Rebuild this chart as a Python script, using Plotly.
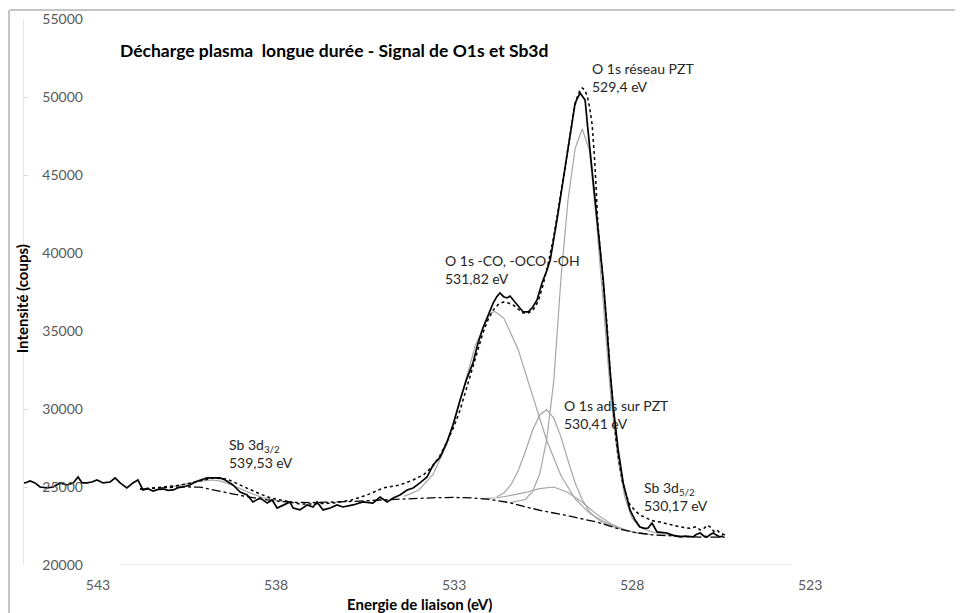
import plotly.graph_objects as go

# spectre mesuré (trait plein noir)
energy_raw = [545.19, 545.05, 544.91, 544.77, 544.63, 544.43, 544.26, 544.07, 543.87, 543.70,
              543.56, 543.45, 543.31, 543.17, 543.03, 542.86, 542.66, 542.52, 542.38, 542.19,
              542.02, 541.88, 541.74, 541.60, 541.46, 541.31, 541.17, 541.03, 540.89, 540.75,
              540.61, 540.42, 540.28, 540.13, 539.94, 539.77, 539.57, 539.43, 539.21, 539.01,
              538.81, 538.65, 538.45, 538.25, 538.11, 537.97, 537.80, 537.61, 537.52, 537.33,
              537.13, 536.96, 536.85, 536.68, 536.48, 536.29, 536.12, 535.84, 535.56, 535.28,
              535.08, 534.88, 534.71, 534.52, 534.32, 534.15, 533.96, 533.76, 533.59, 533.39,
              533.20, 533.03, 532.83, 532.65, 532.47, 532.33, 532.19, 532.05, 531.90, 531.80,
              531.71, 531.61, 531.51, 531.43, 531.33, 531.23, 531.06, 530.92, 530.80, 530.67,
              530.53, 530.39, 530.30, 530.11, 529.94, 529.74, 529.60, 529.46, 529.32, 529.24,
              529.10, 528.96, 528.81, 528.62, 528.53, 528.39, 528.25, 528.06, 527.92, 527.78,
              527.65, 527.55, 527.44, 527.30, 527.16, 527.02, 526.85, 526.65, 526.50, 526.29,
              526.20, 526.09, 525.98, 525.89, 525.80, 525.72, 525.62, 525.53, 525.44]
counts_raw = [25320, 25260, 25390, 25260, 25000, 24940, 25000, 25260, 25130, 25260,
              25640, 25260, 25260, 25320, 25450, 25260, 25320, 25580, 25260, 24940,
              25260, 25450, 24810, 24900, 24740, 24850, 24870, 24780, 24810, 24950,
              25000, 25130, 25320, 25450, 25580, 25580, 25580, 25450, 25130, 24680,
              24490, 24040, 24300, 23970, 24170, 23650, 23850, 24040, 23650, 23530,
              23850, 23720, 24040, 23530, 23650, 23850, 23720, 23850, 24040, 23970,
              24360, 24040, 24300, 24490, 24810, 24940, 25260, 25640, 26410, 26920,
              27890, 28970, 30580, 31900, 32950, 34200, 35190, 36000, 36800, 37200,
              37440, 37200, 37120, 37240, 36950, 36670, 36220, 36220, 36500, 36990,
              38080, 38910, 39550, 42120, 44680, 47690, 49620, 50260, 49810, 47890,
              44680, 41470, 38270, 32500, 30130, 27370, 25260, 23530, 22900, 22440,
              22350, 22370, 22690, 22120, 22100, 22050, 21900, 21800, 21850, 21800,
              21950, 22050, 21850, 21800, 21950, 22050, 21900, 21800, 21860]

# enveloppe de l'ajustement (pointillé)
energy_fit = [541.82, 541.40, 540.89, 540.50, 540.13, 539.77, 539.38, 539.01, 538.70, 538.45,
              538.15, 537.89, 537.60, 537.33, 536.90, 536.40, 535.90, 535.44, 534.99, 534.52,
              534.15, 533.85, 533.59, 533.40, 533.20, 533.00, 532.83, 532.65, 532.47, 532.30,
              532.19, 532.05, 531.90, 531.76, 531.62, 531.48, 531.34, 531.20, 531.06, 530.92,
              530.78, 530.64, 530.50, 530.36, 530.22, 530.08, 529.94, 529.82, 529.71, 529.62,
              529.54, 529.47, 529.40, 529.33, 529.26, 529.19, 529.12, 529.04, 528.96, 528.88,
              528.79, 528.70, 528.62, 528.53, 528.45, 528.37, 528.28, 528.17, 528.06, 527.90,
              527.78, 527.63, 527.45, 527.21, 526.95, 526.65, 526.38, 526.20, 526.09, 525.98,
              525.89, 525.81, 525.70, 525.62, 525.53, 525.39]
counts_fit = [24870, 24950, 25060, 25200, 25390, 25580, 25510, 25130, 24800, 24550,
              24300, 24170, 24000, 23910, 23920, 23970, 24150, 24490, 24940, 25130,
              25450, 25800, 26350, 27000, 27890, 28900, 29940, 31300, 32630, 33900,
              34870, 35700, 36350, 36700, 36860, 36800, 36670, 36400, 36150, 36150,
              36350, 36900, 37950, 39300, 40830, 42700, 44680, 46400, 48010, 49300,
              50000, 50400, 50580, 50450, 50060, 49300, 48200, 45500, 41800, 39800,
              37950, 35300, 32500, 30000, 28010, 26700, 25450, 24500, 23850, 23450,
              23200, 23050, 22850, 22750, 22600, 22440, 22350, 22450, 22250, 22350,
              22550, 22440, 22150, 22250, 22050, 21920]

# fond (tiret-point)
energy_bg = [541.82, 541.20, 540.60, 540.13, 539.80, 539.50, 539.20, 538.90, 538.60, 538.25,
             537.90, 537.50, 537.00, 536.50, 536.00, 535.50, 535.00, 534.50, 534.00, 533.50,
             533.00, 532.50, 532.00, 531.50, 531.00, 530.50, 530.00, 529.50, 529.00, 528.50,
             528.00, 527.50, 527.00, 526.50, 526.00, 525.40]
counts_bg = [24870, 24950, 25010, 24990, 24850, 24700, 24550, 24420, 24300, 24170,
             24080, 24020, 24000, 24020, 24060, 24120, 24180, 24240, 24290, 24320,
             24330, 24300, 24200, 24020, 23730, 23460, 23250, 23020, 22760, 22400,
             22110, 21950, 21860, 21810, 21790, 21780]

# composantes (gris)
energy_sb32 = [541.00, 540.60, 540.20, 539.80, 539.55, 539.20, 538.80, 538.40, 538.00, 537.60]
counts_sb32 = [24980, 25150, 25350, 25450, 25380, 25100, 24690, 24335, 24125, 24040]

energy_co = [534.40, 534.00, 533.60, 533.20, 532.80, 532.40, 532.00, 531.85, 531.60, 531.20,
             530.80, 530.40, 530.00, 529.60, 529.20, 528.80, 528.40, 528.00, 527.50]
counts_co = [24400, 24790, 25770, 27760, 30800, 34090, 36120, 36250, 35810, 33810,
             30890, 28000, 25740, 24240, 23330, 22790, 22380, 22130, 21960]

energy_ads = [531.80, 531.60, 531.40, 531.20, 531.00, 530.80, 530.60, 530.40, 530.20, 530.00,
              529.80, 529.60, 529.40, 529.20, 529.00, 528.80, 528.50]
counts_ads = [24380, 24620, 25150, 26040, 27260, 28600, 29600, 29960, 29420, 28230,
              26700, 25260, 24200, 23420, 22990, 22690, 22420]

energy_sb52 = [532.20, 531.80, 531.40, 531.00, 530.60, 530.20, 529.80, 529.40, 529.00, 528.60,
               528.20, 527.80]
counts_sb52 = [24250, 24310, 24460, 24650, 24900, 25000, 24650, 24020, 23260, 22640,
               22260, 22010]

energy_pzt = [531.40, 531.00, 530.80, 530.60, 530.40, 530.20, 530.00, 529.80, 529.60, 529.40,
              529.20, 529.00, 528.80, 528.60, 528.40, 528.20, 528.00, 527.80, 527.60, 527.40,
              527.00, 526.50]
counts_pzt = [24020, 24200, 24700, 25800, 28000, 31800, 38300, 43400, 46700, 47950,
              46600, 42000, 36500, 30800, 26800, 24300, 23000, 22450, 22250, 22100,
              21950, 21830]

x_ticks = [543, 538, 533, 528, 523]
y_ticks = [20000, 25000, 30000, 35000, 40000, 45000, 50000, 55000]

title_text = "<b>Décharge plasma  longue durée - Signal de O1s et Sb3d</b>"
labels = [
    ("O 1s réseau PZT<br>529,4 eV", 529.18, 51250),
    ("O 1s -CO, -OCO, -OH<br>531,82 eV", 533.31, 38974),
    ("O 1s ads sur PZT<br>530,41 eV", 529.97, 29679),
    ("Sb 3d<sub>5/2</sub><br>530,17 eV", 527.72, 24423),
    ("Sb 3d<sub>3/2</sub><br>539,53 eV", 539.38, 27147),
]

gray = "#a6a6a6"
fig = go.Figure()
for ex, cy in [(energy_sb32, counts_sb32), (energy_co, counts_co), (energy_ads, counts_ads),
               (energy_sb52, counts_sb52), (energy_pzt, counts_pzt)]:
    fig.add_trace(go.Scatter(x=ex, y=cy, mode="lines", line=dict(color=gray, width=1.2)))
fig.add_trace(go.Scatter(x=energy_bg, y=counts_bg, mode="lines",
                         line=dict(color="black", width=1.3, dash="dashdot")))
fig.add_trace(go.Scatter(x=energy_raw, y=counts_raw, mode="lines",
                         line=dict(color="black", width=1.7)))
fig.add_trace(go.Scatter(x=energy_fit, y=counts_fit, mode="lines",
                         line=dict(color="black", width=1.5, dash="dot")))
# trace invisible pour faire exister l'axe des étiquettes verticales
fig.add_trace(go.Scatter(x=x_ticks[:1], y=y_ticks[:1], yaxis="y2", mode="markers",
                         marker=dict(opacity=0), hoverinfo="skip"))

fig.add_annotation(text=title_text, x=542.44, y=53011, xanchor="left", yanchor="middle",
                   showarrow=False, font=dict(size=17.5, color="black"))
for txt, ex, cy in labels:
    fig.add_annotation(text=txt, x=ex, y=cy, xanchor="left", yanchor="middle", align="left",
                       showarrow=False, font=dict(size=14, color="#262626"))

fig.add_annotation(text="<b>Intensité (coups)</b>", xref="paper", yref="paper", x=-0.002, y=0.487,
                   xanchor="center", yanchor="middle", textangle=-90, showarrow=False,
                   font=dict(size=15, color="black"))
fig.add_annotation(text="<b>Energie de liaison (eV)</b>", xref="x", yref="paper", x=533.98, y=-0.0714,
                   xanchor="center", yanchor="middle", showarrow=False,
                   font=dict(size=15, color="black"))

# ligne d'axe horizontale et bord du graphique
fig.add_shape(type="line", xref="x", yref="y", x0=542.38, x1=523.56, y0=20000, y1=20000,
              line=dict(color="#d9d9d9", width=1.2))
fig.add_shape(type="line", xref="paper", yref="paper", x0=-0.015, x1=1.01, y0=1.0165, y1=1.0165,
              line=dict(color="#8c8c8c", width=1))
fig.add_shape(type="line", xref="paper", yref="paper", x0=-0.016, x1=-0.016, y0=1.0165, y1=-0.1,
              line=dict(color="#8c8c8c", width=1))

# la page ajoute une marge de 8 px : la figure fait donc 955 x 605
fig.update_layout(width=955, height=605, margin=dict(l=16, r=3, t=11, b=48),
                  plot_bgcolor="white", paper_bgcolor="white", showlegend=False,
                  font=dict(family="Lato", color="#595959", size=14))
fig.update_xaxes(range=[545.08, 518.79], tickvals=x_ticks, showgrid=False, zeroline=False,
                 showline=False, ticks="", ticklabelstandoff=10, automargin=False,
                 tickfont=dict(size=14, color="#595959"))
fig.update_yaxes(range=[20000, 55000], tickvals=y_ticks, showgrid=False, zeroline=False,
                 showline=True, linecolor="#e6e6e6", ticks="inside", ticklen=4, tickcolor="#d9d9d9",
                 showticklabels=False, automargin=False)
fig.update_layout(yaxis2=dict(overlaying="y", anchor="free", position=0.063, side="left",
                              range=[20000, 55000], tickvals=y_ticks,
                              ticktext=[str(v) for v in y_ticks], showgrid=False, zeroline=False,
                              showline=False, ticks="", automargin=False,
                              tickfont=dict(size=14, color="#595959")))

fig.write_html("out.html")
